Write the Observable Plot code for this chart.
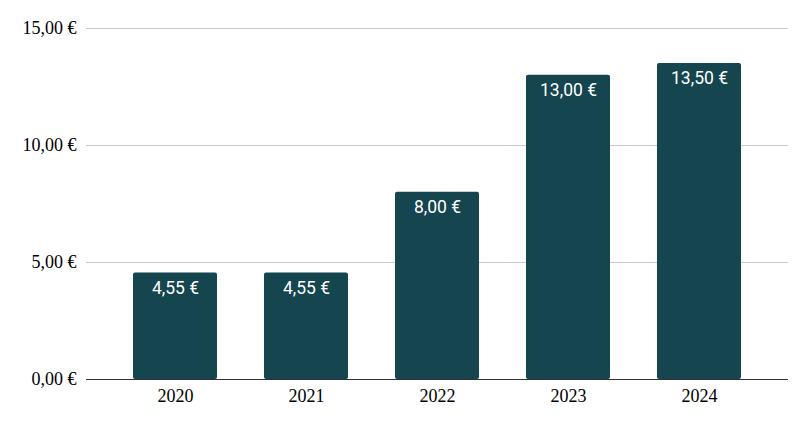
<!DOCTYPE html>
<html>
<head>
<meta charset="utf-8">
<script src="https://cdn.jsdelivr.net/npm/d3@7"></script>
<script src="https://cdn.jsdelivr.net/npm/@observablehq/plot@0.6"></script>
<style>
  html, body { margin: 0; padding: 0; background: #fff; }
</style>
</head>
<body>
<div id="chart"></div>
<script>
const years = ["2020", "2021", "2022", "2023", "2024"];
const prices = [4.55, 4.55, 8.00, 13.00, 13.50];
const yTicks = [0, 5, 10, 15];

const data = years.map((y, i) => ({year: y, price: prices[i]}));
const fmt = v => v.toFixed(2).replace(".", ",") + " €";

const chart = Plot.plot({
  width: 808,
  height: 424,
  marginTop: 28,
  marginBottom: 45,
  marginLeft: 86,
  marginRight: 20,
  style: {fontFamily: "'Liberation Serif', serif", fontSize: "18px", color: "#000", background: "#fff"},
  x: {domain: years, paddingInner: 0.36, paddingOuter: 0.18, insetLeft: 23.4, insetRight: 23.4, label: null},
  y: {domain: [0, 15], label: null},
  marks: [
    Plot.ruleY(yTicks.slice(1), {stroke: "#c8c8c8", strokeWidth: 1, strokeOpacity: 1}),
    Plot.barY(data, {x: "year", y: "price", fill: "#15454f", rx: 2}),
    Plot.ruleY([0], {stroke: "#333", strokeWidth: 1.2}),
    Plot.text(data, {x: "year", y: "price", text: d => fmt(d.price), dy: 15, fill: "#fff", fontSize: 17.5, fontFamily: "Roboto", fontWeight: 400}),
    Plot.axisY({ticks: yTicks, tickFormat: fmt, tickSize: 0, tickPadding: 10, fontSize: 18, fontFamily: "Liberation Serif"}),
    Plot.axisX({tickSize: 0, tickPadding: 10, fontSize: 18, fontFamily: "Liberation Serif"})
  ]
});
chart.querySelectorAll("text").forEach(t => { t.style.fontVariant = "normal"; });
document.getElementById("chart").appendChild(chart);
</script>
</body>
</html>
